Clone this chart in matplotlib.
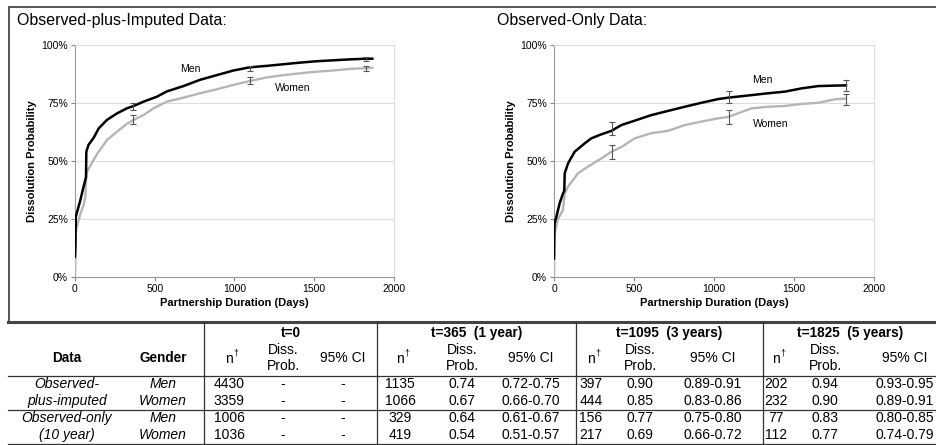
import matplotlib
matplotlib.use("Agg")
import matplotlib.pyplot as plt
from matplotlib.lines import Line2D

plt.rcParams['font.family'] = ['Liberation Sans', 'DejaVu Sans']

# ---------------- curve data (days, cumulative dissolution probability) -------------
imp_men_days = [0, 3, 5, 33, 54, 69, 71, 85, 117, 148, 200, 263, 325, 367, 430, 513, 576,
                680, 784, 888, 993, 1097, 1201, 1306, 1410, 1514, 1618, 1722, 1827, 1864]
imp_men_prob = [0.088, 0.15, 0.26, 0.33, 0.39, 0.43, 0.54, 0.57, 0.60, 0.64, 0.677, 0.705,
                0.727, 0.737, 0.756, 0.777, 0.80, 0.823, 0.85, 0.87, 0.89, 0.904, 0.91,
                0.917, 0.924, 0.93, 0.934, 0.938, 0.941, 0.941]
imp_women_days = [0, 5, 12, 33, 54, 65, 71, 96, 138, 200, 263, 325, 367, 430, 492, 576,
                  680, 784, 888, 993, 1097, 1201, 1306, 1410, 1514, 1618, 1722, 1827, 1864]
imp_women_prob = [0.0, 0.20, 0.217, 0.27, 0.31, 0.346, 0.447, 0.48, 0.53, 0.59, 0.626,
                  0.66, 0.677, 0.698, 0.727, 0.756, 0.773, 0.792, 0.809, 0.828, 0.845,
                  0.86, 0.87, 0.878, 0.885, 0.89, 0.897, 0.90, 0.902]

obs_men_days = [0, 3, 15, 35, 56, 64, 67, 88, 129, 192, 234, 296, 359, 421, 505, 609, 713,
                818, 922, 1026, 1089, 1235, 1339, 1443, 1547, 1652, 1756, 1825]
obs_men_prob = [0.08, 0.23, 0.26, 0.317, 0.36, 0.37, 0.447, 0.49, 0.54, 0.576, 0.598,
                0.615, 0.63, 0.655, 0.674, 0.698, 0.716, 0.734, 0.751, 0.767, 0.773,
                0.784, 0.792, 0.799, 0.813, 0.823, 0.825, 0.826]
obs_women_days = [0, 3, 25, 56, 67, 88, 150, 213, 296, 359, 421, 505, 609, 713, 818, 922,
                  1026, 1089, 1235, 1339, 1443, 1547, 1652, 1756, 1825]
obs_women_prob = [0.0, 0.188, 0.25, 0.289, 0.36, 0.39, 0.447, 0.476, 0.511, 0.54, 0.56,
                  0.598, 0.62, 0.63, 0.655, 0.67, 0.684, 0.69, 0.727, 0.734, 0.737,
                  0.746, 0.751, 0.766, 0.769]

# ---------------- table data ----------------
time_points = [0, 365, 1095, 1825]
time_headers = ["t=0", "t=365  (1 year)", "t=1095  (3 years)", "t=1825  (5 years)"]
data_labels = [("Observed-", "plus-imputed"), ("Observed-only", "(10 year)")]
genders = ["Men", "Women", "Men", "Women"]
n_values = [[4430, 3359, 1006, 1036],
            [1135, 1066, 329, 419],
            [397, 444, 156, 217],
            [202, 232, 77, 112]]
diss_values = [["-", "-", "-", "-"],
               ["0.74", "0.67", "0.64", "0.54"],
               ["0.90", "0.85", "0.77", "0.69"],
               ["0.94", "0.90", "0.83", "0.77"]]
ci_values = [["-", "-", "-", "-"],
             ["0.72-0.75", "0.66-0.70", "0.61-0.67", "0.51-0.57"],
             ["0.89-0.91", "0.83-0.86", "0.75-0.80", "0.66-0.72"],
             ["0.93-0.95", "0.89-0.91", "0.80-0.85", "0.74-0.79"]]

W, H = 937, 445
fig = plt.figure(figsize=(W / 100, H / 100), dpi=100)
fig.patch.set_facecolor("white")

# background pixel-coordinate axes for frame + table
bg = fig.add_axes([0, 0, 1, 1], zorder=0)
bg.set_xlim(0, W)
bg.set_ylim(H, 0)
bg.axis("off")

# outer frame of the chart area
bg.add_line(Line2D([9, W], [7, 7], color="#555555", lw=1.4))
bg.add_line(Line2D([9, 9], [7, 322], color="#555555", lw=1.4))


def draw_panel(rect, title, title_x, men_d, men_p, women_d, women_p, col_idx_rows,
               men_lbl, women_lbl):
    ax = fig.add_axes(rect, zorder=2)
    ax.set_xlim(0, 2000)
    ax.set_ylim(0, 1)
    ax.set_xticks([0, 500, 1000, 1500, 2000])
    ax.set_yticks([0, 0.25, 0.5, 0.75, 1.0])
    ax.set_yticklabels(["0%", "25%", "50%", "75%", "100%"])
    ax.tick_params(labelsize=7.5, length=3, width=0.8, color="#888888", pad=2)
    for y in [0.25, 0.5, 0.75, 1.0]:
        ax.axhline(y, color="#dddddd", lw=0.8, zorder=0)
    for s in ["top", "right"]:
        ax.spines[s].set_color("#dddddd")
        ax.spines[s].set_linewidth(0.8)
    for s in ["left", "bottom"]:
        ax.spines[s].set_color("#999999")
        ax.spines[s].set_linewidth(0.8)
    ax.plot(women_d, women_p, color="#b5b5b5", lw=1.7, zorder=3)
    ax.plot(men_d, men_p, color="black", lw=1.8, zorder=4)
    # error bars from table CIs
    for ti in range(1, 4):
        for r in col_idx_rows:
            lo, hi = [float(v) for v in ci_values[ti][r].split("-")]
            p = float(diss_values[ti][r])
            ax.errorbar([time_points[ti]], [p], yerr=[[p - lo], [hi - p]], fmt="none",
                        ecolor="#555555", elinewidth=0.8, capsize=2, capthick=0.8, zorder=5)
    ax.text(men_lbl[0], men_lbl[1], "Men", fontsize=7.5, ha="center", va="center")
    ax.text(women_lbl[0], women_lbl[1], "Women", fontsize=7.5, ha="center", va="center")
    ax.set_xlabel("Partnership Duration (Days)", fontsize=8, fontweight="bold", labelpad=3)
    ax.set_ylabel("Dissolution Probability", fontsize=8, fontweight="bold", labelpad=3)
    bg.text(title_x, 20, title, fontsize=11.5, ha="left", va="center")
    return ax


draw_panel([75 / W, 1 - 277 / H, 319 / W, 232 / H], "Observed-plus-Imputed Data:", 17,
           imp_men_days, imp_men_prob, imp_women_days, imp_women_prob, [0, 1],
           (721, 0.897), (1368, 0.813))
draw_panel([554 / W, 1 - 277 / H, 320 / W, 232 / H], "Observed-Only Data:", 497,
           obs_men_days, obs_men_prob, obs_women_days, obs_women_prob, [2, 3],
           (1303, 0.849), (1356, 0.66))

# ---------------- table ----------------
line_c = "#333333"
T_TOP, HDR_LINE, SEP, T_BOT = 322, 375.5, 409.5, 443.5
bg.add_line(Line2D([8, W], [T_TOP, T_TOP], color="#444444", lw=2.2))
bg.add_line(Line2D([8, W], [HDR_LINE, HDR_LINE], color=line_c, lw=0.9))
bg.add_line(Line2D([8, W], [SEP, SEP], color=line_c, lw=0.9))
bg.add_line(Line2D([8, W], [T_BOT, T_BOT], color=line_c, lw=0.9))
vlines = [204, 377, 576, 763]
for xv in vlines:
    bg.add_line(Line2D([xv, xv], [T_TOP, T_BOT], color=line_c, lw=0.9))

fs = 10
hfs = 9.8
group_centers = [290.5, 476.5, 669.5, 850]
n_x = [229, 400, 591, 776]
d_x = [283, 462, 640, 825]
c_x = [343, 531, 713, 905]

bg.text(67, 358, "Data", fontsize=hfs, fontweight="bold", ha="center", va="center")
bg.text(163, 358, "Gender", fontsize=hfs, fontweight="bold", ha="center", va="center")
for g in range(4):
    bg.text(group_centers[g], 333, time_headers[g], fontsize=hfs, fontweight="bold",
            ha="center", va="center")
    bg.text(n_x[g], 359, "n", fontsize=fs, ha="center", va="center")
    bg.text(n_x[g] + 4, 353, "\u2020", fontsize=6.5, ha="left", va="center")
    bg.text(d_x[g], 350, "Diss.", fontsize=fs, ha="center", va="center")
    bg.text(d_x[g], 366, "Prob.", fontsize=fs, ha="center", va="center")
    bg.text(c_x[g], 358, "95% CI", fontsize=fs, ha="center", va="center")

row_y = [384, 401, 418, 435]
for r in range(4):
    bg.text(67, row_y[r], data_labels[r // 2][r % 2], fontsize=fs, style="italic",
            ha="center", va="center")
    bg.text(163, row_y[r], genders[r], fontsize=fs, style="italic", ha="center", va="center")
    for g in range(4):
        bg.text(n_x[g], row_y[r], str(n_values[g][r]), fontsize=fs, ha="center", va="center")
        bg.text(d_x[g], row_y[r], diss_values[g][r], fontsize=fs, ha="center", va="center")
        bg.text(c_x[g], row_y[r], ci_values[g][r], fontsize=fs, ha="center", va="center")

fig.savefig("out.png", dpi=100, facecolor="white")
